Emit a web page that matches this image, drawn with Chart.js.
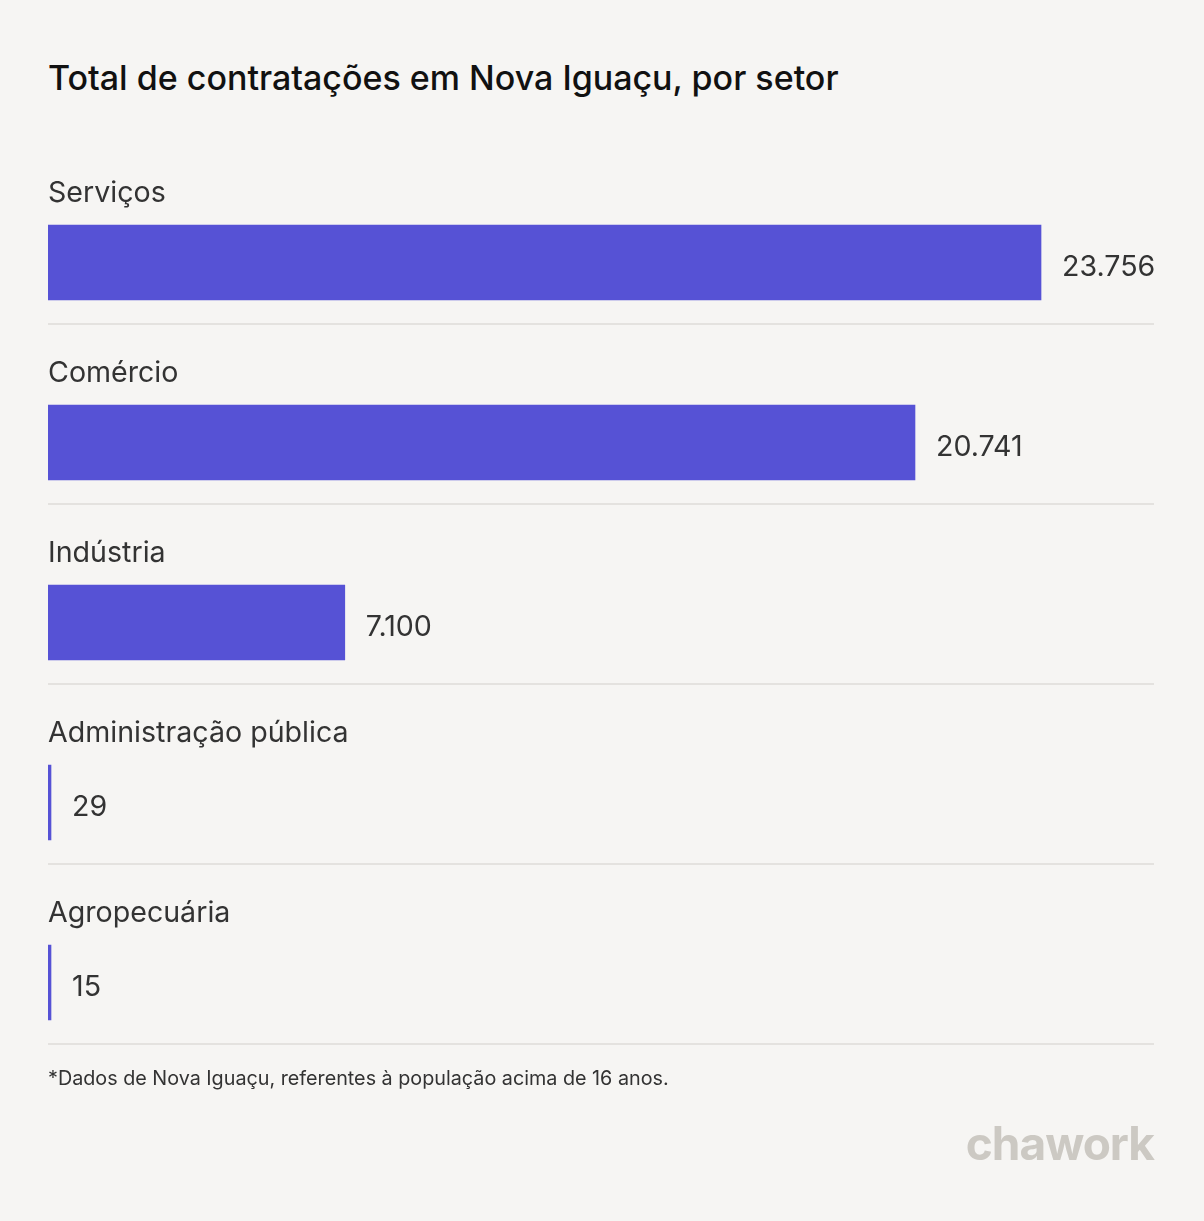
<!DOCTYPE html>
<html>
<head>
<meta charset="utf-8">
<script src="https://cdn.jsdelivr.net/npm/chart.js@4.4.0/dist/chart.umd.min.js"></script>
<style>
  html, body { margin: 0; padding: 0; background: #f6f5f3; }
  body { width: 1204px; height: 1221px; position: relative; overflow: hidden; font-family: Inter, "Noto Sans", sans-serif; }
  #title { position: absolute; left: 48px; top: 61px; font-size: 34px; line-height: 34px; font-weight: 500; color: #111; white-space: nowrap; }
  #note { position: absolute; left: 48px; top: 1068px; font-size: 19.75px; line-height: 20px; color: #333; white-space: nowrap; }
  #logo { position: absolute; right: 50px; top: 1119px; font-size: 46px; line-height: 48px; font-weight: 700; color: #ccc9c3; letter-spacing: -1px; white-space: nowrap; }
  canvas { position: absolute; left: 0; top: 0; }
</style>
</head>
<body>
<div id="title">Total de contratações em Nova Iguaçu, por setor</div>
<canvas id="c" width="1204" height="1221"></canvas>
<div id="note">*Dados de Nova Iguaçu, referentes à população acima de 16 anos.</div>
<div id="logo">chawork</div>
<script>
const categories = ["Serviços", "Comércio", "Indústria", "Administração pública", "Agropecuária"];
const values = [23756, 20741, 7100, 29, 15];
const valueLabels = ["23.756", "20.741", "7.100", "29", "15"];
const axisMax = 26459;

const TEXT = '#333333';
const FONT = 'Inter, "Noto Sans", sans-serif';

const labelPlugin = {
  id: 'rowLabels',
  afterDatasetsDraw(chart) {
    const ctx = chart.ctx;
    const meta = chart.getDatasetMeta(0);
    const area = chart.chartArea;
    ctx.save();
    meta.data.forEach((bar, i) => {
      const cy = bar.y;
      ctx.fillStyle = TEXT;
      ctx.font = '400 28.6px ' + FONT;
      ctx.textBaseline = 'middle';
      ctx.textAlign = 'left';
      ctx.fillText(categories[i], area.left, cy - 69.5);
      ctx.fillText(valueLabels[i], bar.x + 21, cy + 5);
      ctx.fillStyle = '#e4e2df';
      ctx.fillRect(area.left, Math.round(cy + 61.5) - 1, area.right - area.left, 2);
    });
    ctx.restore();
  }
};

new Chart(document.getElementById('c'), {
  type: 'bar',
  data: {
    labels: categories,
    datasets: [{
      data: values,
      backgroundColor: '#5652d5',
      borderWidth: 0,
      barThickness: 75,
      minBarLength: 3
    }]
  },
  options: {
    indexAxis: 'y',
    responsive: false,
    animation: false,
    layout: { padding: { left: 48, right: 50, top: 172.5, bottom: 148.5 } },
    plugins: { legend: { display: false }, tooltip: { enabled: false }, title: { display: false } },
    scales: {
      x: { display: false, min: 0, max: axisMax },
      y: { display: false }
    }
  },
  plugins: [labelPlugin]
});
</script>
</body>
</html>
